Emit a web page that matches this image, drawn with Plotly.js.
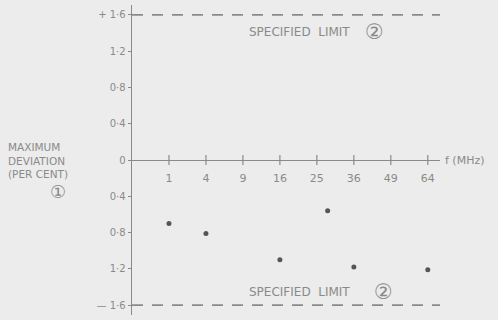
<!DOCTYPE html>
<html><head><meta charset="utf-8">
<script src="https://cdn.plot.ly/plotly-3.0.1.min.js"></script>
<style>html,body{margin:0;padding:0;background:#ececec;}</style>
</head><body>
<div id="chart" style="width:498px;height:320px;"></div>
<script>
// Frequencies (MHz), plotted on a square-root scale
const freqTicks = [1, 4, 9, 16, 25, 36, 49, 64];
const freqTickLabels = ["1", "4", "9", "16", "25", "36", "49", "64"];
// Measured maximum deviation (per cent)
const pointFreq = [1, 4, 16, 28, 36, 64];
const pointDev = [-0.70, -0.81, -1.10, -0.56, -1.18, -1.21];
// Y ticks
const yTickVals = [1.6, 1.2, 0.8, 0.4, 0, -0.4, -0.8, -1.2, -1.6];
const yTickText = ["+ 1·6", "1·2", "0·8", "0·4", "0", "0·4", "0·8", "1·2", "— 1·6"];
// Specified limits
const upperLimit = 1.6;
const lowerLimit = -1.6;

const ink = "#8a8a8a";
const fontFam = "'DejaVu Sans',sans-serif";
const sq = v => Math.sqrt(v);
const xMax = 8.33;

const traces = [
  { // tick crosses on the frequency axis
    x: freqTicks.map(sq), y: freqTicks.map(() => 0),
    mode: "markers", type: "scatter", hoverinfo: "skip",
    marker: { symbol: "line-ns", size: 7, line: { color: ink, width: 1.2 } }
  },
  { // upper limit
    x: [0, xMax], y: [upperLimit, upperLimit], mode: "lines", type: "scatter",
    line: { color: ink, width: 1.8, dash: "11px,9px" }, hoverinfo: "skip"
  },
  { // lower limit
    x: [0, xMax], y: [lowerLimit, lowerLimit], mode: "lines", type: "scatter",
    line: { color: ink, width: 1.8, dash: "11px,9px" }, hoverinfo: "skip"
  },
  { // measured points
    x: pointFreq.map(sq), y: pointDev, mode: "markers", type: "scatter",
    marker: { size: 5, color: "#555555" }
  }
];

const layout = {
  width: 498, height: 320,
  margin: { l: 132, r: 58, t: 5, b: 5 },
  paper_bgcolor: "#ececec", plot_bgcolor: "#ececec",
  showlegend: false,
  font: { family: fontFam, color: ink, size: 10 },
  xaxis: {
    range: [0, xMax], anchor: "free", position: 0.5,
    tickvals: freqTicks.map(sq), ticktext: freqTickLabels,
    ticks: "", ticklabelstandoff: 8,
    showgrid: false, zeroline: false, showline: true, linecolor: ink, linewidth: 1.2,
    tickfont: { family: fontFam, color: ink, size: 11 }
  },
  yaxis: {
    range: [-1.71, 1.71],
    tickvals: yTickVals, ticktext: yTickText,
    ticks: "outside", ticklen: 3, tickcolor: ink,
    showgrid: false, zeroline: false, showline: true, linecolor: ink, linewidth: 1.4,
    tickfont: { family: fontFam, color: ink, size: 10 }
  },
  annotations: [
    { xref: "paper", yref: "paper", x: -0.41, y: 0.5, xanchor: "left", yanchor: "middle",
      text: "MAXIMUM<br>DEVIATION<br>(PER CENT)", align: "left", showarrow: false,
      font: { family: fontFam, color: ink, size: 10.5 } },
    { xref: "paper", yref: "paper", x: -0.24, y: 0.4, xanchor: "center", yanchor: "middle",
      text: "①", showarrow: false, font: { family: fontFam, color: ink, size: 18 } },
    { xref: "paper", yref: "y", x: 1.01, y: 0, xanchor: "left", yanchor: "middle",
      text: "f (MHz)", showarrow: false, font: { family: fontFam, color: ink, size: 11 } },
    { xref: "x", yref: "y", x: 3.1, y: upperLimit - 0.19, xanchor: "left", yanchor: "middle",
      text: "SPECIFIED  LIMIT", showarrow: false, font: { family: fontFam, color: ink, size: 12 } },
    { xref: "x", yref: "y", x: 6.55, y: upperLimit - 0.19, xanchor: "center", yanchor: "middle",
      text: "②", showarrow: false, font: { family: fontFam, color: ink, size: 21 } },
    { xref: "x", yref: "y", x: 3.1, y: lowerLimit + 0.14, xanchor: "left", yanchor: "middle",
      text: "SPECIFIED  LIMIT", showarrow: false, font: { family: fontFam, color: ink, size: 12 } },
    { xref: "x", yref: "y", x: 6.8, y: lowerLimit + 0.14, xanchor: "center", yanchor: "middle",
      text: "②", showarrow: false, font: { family: fontFam, color: ink, size: 21 } }
  ]
};

Plotly.newPlot("chart", traces, layout, { displayModeBar: false, staticPlot: true });
</script>
</body></html>
